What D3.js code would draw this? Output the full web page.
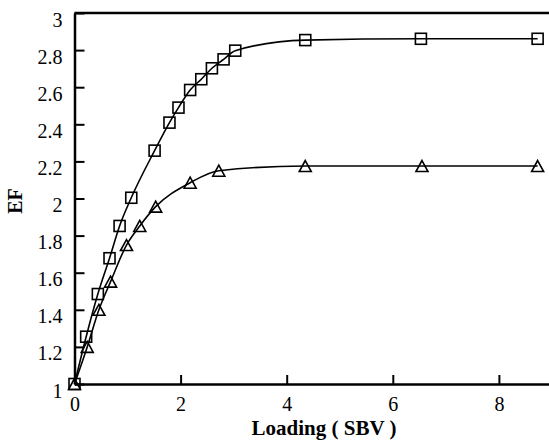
<!DOCTYPE html>
<html>
<head>
<meta charset="utf-8">
<script src="https://cdn.jsdelivr.net/npm/d3@7"></script>
<style>
  html, body { margin: 0; padding: 0; background: #fff; }
  svg { display: block; }
  svg text { font-family: "Liberation Serif", "Times New Roman", serif; fill: #000; }
</style>
</head>
<body>
<svg id="chart" width="549" height="440"></svg>
<script>
// ---- data ----
const squareX = [0, 0.22, 0.44, 0.66, 0.85, 1.07, 1.51, 1.79, 1.96, 2.18, 2.39, 2.59, 2.81, 3.03, 4.35, 6.53, 8.73];
const squareY = [1.0, 1.255, 1.485, 1.678, 1.852, 2.004, 2.258, 2.409, 2.49, 2.585, 2.643, 2.702, 2.75, 2.797, 2.854, 2.861, 2.861];
const triangleX = [0, 0.24, 0.46, 0.68, 0.98, 1.23, 1.53, 2.18, 2.72, 4.35, 6.55, 8.73];
const triangleY = [1.0, 1.20, 1.40, 1.552, 1.749, 1.852, 1.956, 2.085, 2.15, 2.175, 2.175, 2.175];
const xTicks = [0, 2, 4, 6, 8];
const yTicks = [1, 1.2, 1.4, 1.6, 1.8, 2, 2.2, 2.4, 2.6, 2.8, 3];
const xTitle = "Loading ( SBV )";
const yTitle = "EF";

// ---- layout ----
const svg = d3.select("#chart");
const plotLeft = 74.5, plotTop = 13, plotBottom = 384;
const unit = 53.05;
const x = d3.scaleLinear().domain([0, 9]).range([plotLeft, plotLeft + 9 * unit]);
const y = d3.scaleLinear().domain([1, 3]).range([plotBottom, plotTop]);
const font = "'Liberation Serif', 'Times New Roman', serif";

// top frame line and (off-screen) right frame
svg.append("line").attr("x1", plotLeft).attr("x2", x(9)).attr("y1", plotTop).attr("y2", plotTop)
  .attr("stroke", "#000").attr("stroke-width", 2.5);
svg.append("line").attr("x1", x(9)).attr("x2", x(9)).attr("y1", plotTop).attr("y2", plotBottom)
  .attr("stroke", "#000").attr("stroke-width", 2.5);

// y axis
const yAxis = svg.append("g").attr("transform", `translate(${plotLeft},0)`)
  .call(d3.axisLeft(y).tickValues(yTicks).tickSizeInner(-10).tickSizeOuter(0)
    .tickFormat(d => d3.format("")(Math.round(d * 10) / 10)));
yAxis.attr("font-family", null);
yAxis.select(".domain").attr("stroke-width", 2.5);
yAxis.selectAll(".tick line").attr("stroke-width", 2);
yAxis.selectAll(".tick text")
  .attr("x", -12).attr("dy", null).attr("y", 13)
  .style("font-family", font).style("font-size", "20px").attr("fill", "#000");

// x axis
const xAxis = svg.append("g").attr("transform", `translate(0,${plotBottom})`)
  .call(d3.axisBottom(x).tickValues(xTicks).tickSizeInner(-9).tickSizeOuter(0));
xAxis.attr("font-family", null);
xAxis.select(".domain").attr("stroke-width", 2.5);
xAxis.selectAll(".tick line").attr("stroke-width", 2);
xAxis.selectAll(".tick text")
  .attr("y", 27).attr("dy", null)
  .style("font-family", font).style("font-size", "20px").attr("fill", "#000");

// titles
svg.append("text").attr("x", 324).attr("y", 435)
  .attr("text-anchor", "middle").style("font-family", font).style("font-weight", "bold")
  .style("font-size", "21px").text(xTitle);
svg.append("text").attr("transform", "translate(22,201) rotate(-90)")
  .attr("text-anchor", "middle").style("font-family", font).style("font-weight", "bold")
  .style("font-size", "20px").text(yTitle);

// lines
const sq = squareX.map((v, i) => [v, squareY[i]]);
const tr = triangleX.map((v, i) => [v, triangleY[i]]);
const line = d3.line().x(d => x(d[0])).y(d => y(d[1])).curve(d3.curveMonotoneX);
svg.append("path").datum(sq).attr("d", line).attr("fill", "none").attr("stroke", "#000").attr("stroke-width", 1.6);
svg.append("path").datum(tr).attr("d", line).attr("fill", "none").attr("stroke", "#000").attr("stroke-width", 1.6);

// markers
const s = 11;
svg.append("g").selectAll("rect").data(sq).join("rect")
  .attr("x", d => x(d[0]) - s / 2).attr("y", d => y(d[1]) - s / 2)
  .attr("width", s).attr("height", s)
  .attr("fill", "none").attr("stroke", "#000").attr("stroke-width", 1.6);

const tw = 12, th = 11;
svg.append("g").selectAll("path").data(tr).join("path")
  .attr("d", d => {
    const cx = x(d[0]), cy = y(d[1]);
    return `M${cx},${cy - th / 2}L${cx + tw / 2},${cy + th / 2}L${cx - tw / 2},${cy + th / 2}Z`;
  })
  .attr("fill", "none").attr("stroke", "#000").attr("stroke-width", 1.6);
</script>
</body>
</html>
